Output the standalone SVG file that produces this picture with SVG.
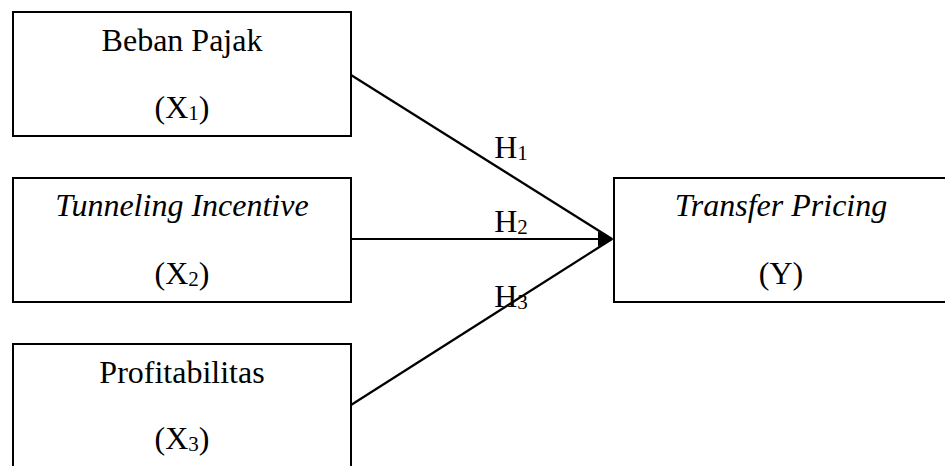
<svg xmlns="http://www.w3.org/2000/svg" width="945" height="466" viewBox="0 0 945 466">
<defs>
<style>
.box{fill:#fff;stroke:#000;stroke-width:2}
text{font-family:'Liberation Serif','Times New Roman',Times,serif;font-size:32px;fill:#000;text-anchor:middle}
.i{font-style:italic}
.sub{font-size:21px}
.ln{stroke:#000;stroke-width:2.2;fill:none}
</style>
</defs>
<rect width="945" height="466" fill="#fff"/>
<g id="x1">
<rect class="box" x="13" y="12" width="338" height="124"/>
<text x="182" y="51">Beban Pajak</text>
<text x="182" y="118">(X<tspan class="sub" dy="2">1</tspan><tspan dy="-2">)</tspan></text>
</g>
<g id="x2">
<rect class="box" x="13" y="178" width="338" height="124"/>
<text class="i" x="182" y="216">Tunneling Incentive</text>
<text x="182" y="284">(X<tspan class="sub" dy="2">2</tspan><tspan dy="-2">)</tspan></text>
</g>
<g id="x3">
<rect class="box" x="13" y="344" width="338" height="140"/>
<text x="182" y="383">Profitabilitas</text>
<text x="182" y="449">(X<tspan class="sub" dy="2">3</tspan><tspan dy="-2">)</tspan></text>
</g>
<g id="y">
<rect class="box" x="614" y="178" width="336" height="124"/>
<text class="i" x="781" y="216">Transfer Pricing</text>
<text x="781" y="284">(Y)</text>
</g>
<g id="connectors">
<line class="ln" x1="351" y1="75" x2="612" y2="239"/>
<line class="ln" x1="351" y1="239" x2="600" y2="239"/>
<line class="ln" x1="351" y1="405" x2="612" y2="239"/>
<polygon points="598,231.5 614,239 598,246.5" fill="#000"/>
<text x="511" y="158">H<tspan class="sub" dy="2">1</tspan></text>
<text x="511" y="232">H<tspan class="sub" dy="2">2</tspan></text>
<text x="511" y="307">H<tspan class="sub" dy="2">3</tspan></text>
</g>
</svg>
